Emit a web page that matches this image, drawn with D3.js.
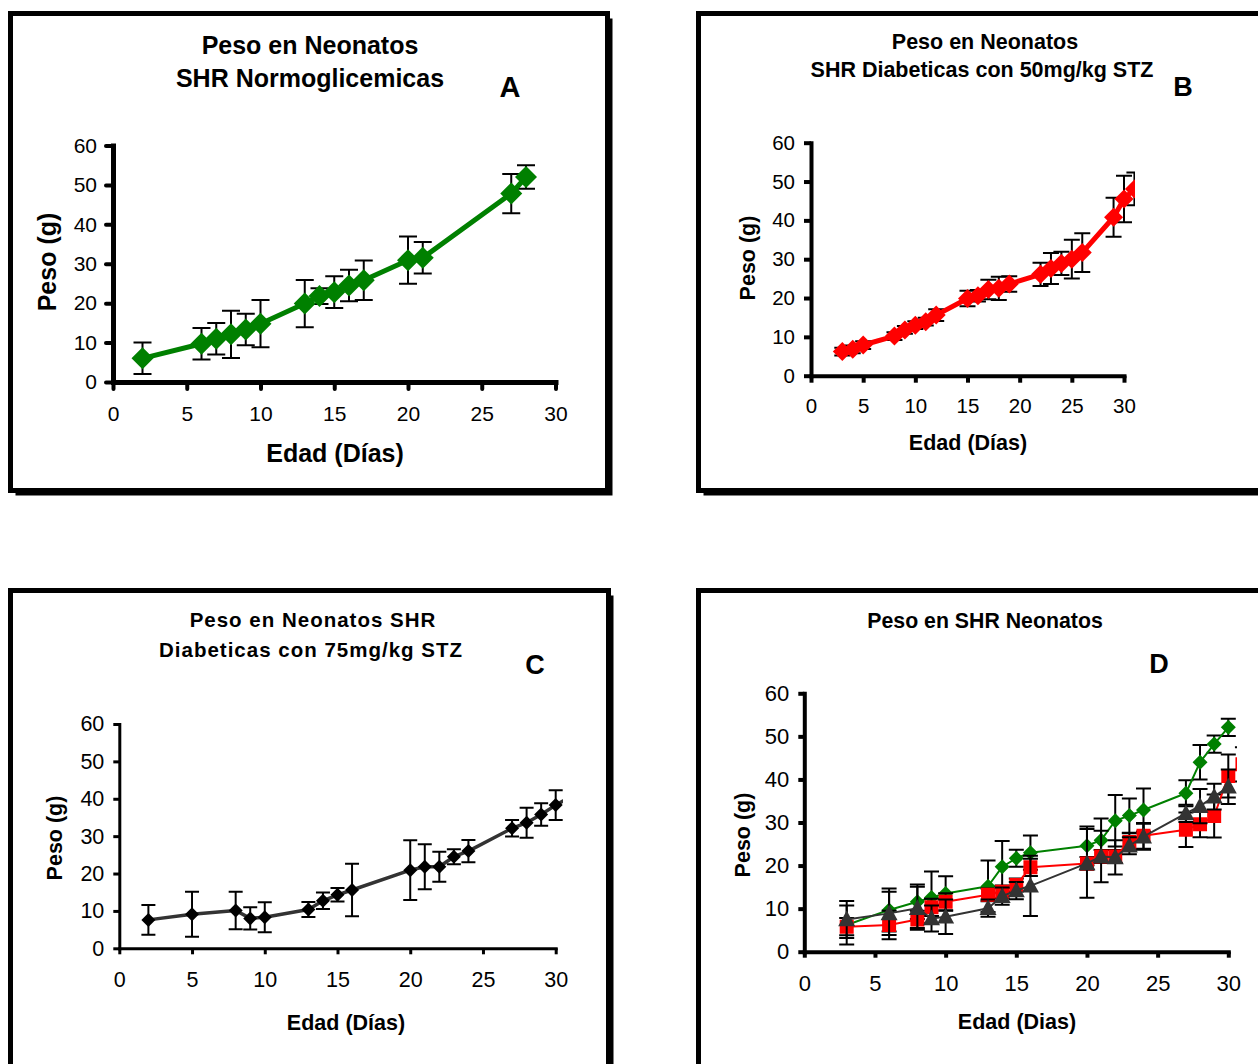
<!DOCTYPE html>
<html>
<head>
<meta charset="utf-8">
<script src="https://cdn.jsdelivr.net/npm/d3@7"></script>
<style>
  body { margin: 0; background: #fff; }
  text { font-family: "Liberation Sans", Arial, sans-serif; fill: #000; }
</style>
</head>
<body>
<div id="chart"></div>
<script>
// ---- data ----
const xTicks = [0, 5, 10, 15, 20, 25, 30]
const yTicks = [0, 10, 20, 30, 40, 50, 60]

// A: SHR normoglicemicas
const diasA = [2, 6, 7, 8, 9, 10, 13, 14, 15, 16, 17, 20, 21, 27, 28]
const pesoA = [6.0, 9.7, 11.0, 12.1, 13.3, 14.8, 19.9, 21.8, 22.8, 24.5, 25.8, 30.9, 31.5, 47.8, 52.0]
const errA  = [4, 4, 4, 6, 4, 6, 6, 2, 4, 4, 5, 6, 4, 5, 3]

// B: diabeticas 50mg/kg STZ
const diasB = [3, 4, 5, 8, 9, 10, 11, 12, 15, 16, 17, 18, 19, 22, 23, 24, 25, 26, 29, 30, 31]
const pesoB = [6.2, 6.8, 7.9, 10.2, 11.8, 13.0, 13.9, 15.6, 19.9, 20.6, 22.2, 22.5, 23.6, 26.1, 27.6, 28.9, 30.0, 31.7, 40.8, 45.5, 48.1]
const errB  = [1, 1, 1, 1, 1, 1, 1, 1.5, 2, 1.5, 2.5, 3, 2, 3, 4, 3, 5, 5, 5, 6, 4.2]

// C: diabeticas 75mg/kg STZ
const diasC = [2, 5, 8, 9, 10, 13, 14, 15, 16, 20, 21, 22, 23, 24, 27, 28, 29, 30, 31]
const pesoC = [7.6, 9.1, 10.1, 8.0, 8.3, 10.4, 12.7, 14.3, 15.6, 20.9, 21.8, 21.8, 24.5, 26.0, 32.1, 33.6, 35.8, 38.3, 40.5]
const errC  = [4, 6, 5, 3, 4, 2, 2.2, 1.8, 7, 8, 6, 4, 2, 3, 2.2, 4, 3, 4, 4]

// D: the three groups together
const diasD = [3, 6, 8, 9, 10, 13, 14, 15, 16, 20, 21, 22, 23, 24, 27, 28, 29, 30]
const diasDrojo = [3, 6, 8, 9, 10, 13, 14, 15, 16, 20, 21, 22, 23, 24, 27, 28, 29, 30, 31]
const pesoDverde = [6.2, 9.7, 11.6, 12.6, 13.5, 15.2, 19.7, 21.7, 23.0, 24.6, 25.9, 30.4, 31.6, 32.9, 36.8, 44.0, 48.2, 52.1]
const errDverde  = [4.5, 5, 4, 6, 4, 6, 6, 2, 4, 4.5, 5, 6, 4, 5, 3, 4, 2, 2]
const pesoDrojo  = [5.8, 6.2, 7.5, 10.3, 11.6, 13.2, 13.9, 15.5, 19.6, 20.5, 22.1, 22.1, 25.5, 26.9, 28.3, 29.6, 31.5, 40.8, 43.5]
const errDrojo   = [2, 3.3, 2, 2, 2, 1.5, 1.5, 1.5, 2, 1.5, 1.5, 1.5, 2, 3, 4, 3, 5, 5, 4]
const pesoDgris  = [7.5, 8.9, 10.1, 7.7, 8.1, 10.1, 12.9, 14.2, 15.3, 20.5, 22.1, 21.9, 24.6, 26.7, 32.1, 33.8, 36.0, 38.3]
const errDgris   = [4.3, 5, 5, 3, 4, 2, 2, 2, 7, 8, 6, 4, 2, 3, 2, 4, 3, 4]

const zip = (xs, ys, es) => xs.map((d, i) => ({x: d, y: ys[i], e: es[i]}))

const W = 1258, H = 1064
const svg = d3.select("#chart").append("svg")
    .attr("width", W)
    .attr("height", H)

function frame(x, y, w, h){
  svg.append("rect")
      .attr("x", x + 5).attr("y", y + 5)
      .attr("width", w).attr("height", h)
      .attr("fill", "#000")
  svg.append("rect")
      .attr("x", x).attr("y", y)
      .attr("width", w).attr("height", h)
      .attr("fill", "#fff")
      .attr("stroke", "#000")
      .attr("stroke-width", 5)
}

const shapes = {
  diamond: r => `M0,${-r}L${r},0L0,${r}L${-r},0Z`,
  square: r => `M${-r},${-r}H${r}V${r}H${-r}Z`,
  triangle: r => `M0,${-r * 1.05}L${r},${r * 0.8}L${-r},${r * 0.8}Z`
}

let clipId = 0
function panel(cfg){
  const x = d3.scaleLinear().domain([0, 30]).range(cfg.xr)
  const y = d3.scaleLinear().domain([0, 60]).range(cfg.yr)
  const g = svg.append("g")

  // titles and labels
  cfg.texts.forEach(t => {
    g.append("text")
        .attr("x", t.x).attr("y", t.y)
        .attr("text-anchor", "middle")
        .attr("font-weight", "bold")
        .attr("font-size", t.size)
        .attr("letter-spacing", t.ls || 0)
        .text(t.s)
  })
  g.append("text")
      .attr("transform", `translate(${cfg.ylab.x},${cfg.ylab.y}) rotate(-90)`)
      .attr("text-anchor", "middle")
      .attr("font-weight", "bold")
      .attr("font-size", cfg.ylab.size)
      .text("Peso (g)")

  // axes
  const ax = g.append("g")
      .attr("transform", `translate(0,${cfg.yr[0]})`)
      .call(d3.axisBottom(x).tickValues(xTicks).tickSize(cfg.tick).tickSizeOuter(0).tickPadding(cfg.xpad))
  const ay = g.append("g")
      .attr("transform", `translate(${cfg.xr[0]},0)`)
      .call(d3.axisLeft(y).tickValues(yTicks).tickSize(cfg.tick).tickSizeOuter(0).tickPadding(cfg.ypad))
  ;[ax, ay].forEach(a => {
    a.select(".domain").attr("stroke-width", cfg.axw).attr("stroke-linecap", "square")
    a.selectAll(".tick line").attr("stroke-width", cfg.tickw).attr("stroke-linecap", cfg.cap || "butt")
    a.selectAll(".tick text")
        .attr("font-size", cfg.tickFont)
        .attr("font-family", "'Liberation Sans', Arial, sans-serif")
        .attr("fill", "#000")
  })

  // series, clipped to the plot area like the original
  const id = "clip" + (clipId++)
  g.append("clipPath").attr("id", id)
    .append("rect")
      .attr("x", cfg.xr[0] - 40)
      .attr("y", cfg.yr[1] - 40)
      .attr("width", cfg.clipX - cfg.xr[0] + 40)
      .attr("height", cfg.yr[0] - cfg.yr[1] + 80)
  const plot = g.append("g").attr("clip-path", `url(#${id})`)

  cfg.series.forEach(s => {
    const sg = plot.append("g")
    const eb = sg.append("g").attr("stroke", "#000").attr("stroke-width", 2).attr("fill", "none")
    s.data.forEach(d => {
      const cx = x(d.x), hw = cfg.capw / 2
      eb.append("path")
          .attr("d", `M${cx},${y(d.y + d.e)}V${y(d.y - d.e)}M${cx - hw},${y(d.y + d.e)}H${cx + hw}M${cx - hw},${y(d.y - d.e)}H${cx + hw}`)
    })
    sg.append("path")
        .datum(s.data)
        .attr("fill", "none")
        .attr("stroke", s.line)
        .attr("stroke-width", s.lw)
        .attr("stroke-linejoin", "round")
        .attr("d", d3.line().x(d => x(d.x)).y(d => y(d.y)))
    sg.append("g")
      .selectAll("path")
      .data(s.data)
      .join("path")
        .attr("transform", d => `translate(${x(d.x)},${y(d.y)})`)
        .attr("d", shapes[s.shape](s.r))
        .attr("fill", s.fill)
  })
}

frame(10.5, 13.5, 597, 477)
frame(698.5, 13.5, 700, 477)
frame(10.5, 590.5, 598, 600)
frame(698.5, 590.5, 700, 600)

panel({
  xr: [113, 555.5], yr: [382, 145.5], clipX: 600,
  tick: 7, tickw: 4, axw: 5, cap: "round", xpad: 17, ypad: 9, tickFont: 21, capw: 18,
  texts: [
    {s: "Peso en Neonatos", x: 310, y: 54, size: 25},
    {s: "SHR Normoglicemicas", x: 310, y: 87, size: 25},
    {s: "A", x: 510, y: 97, size: 29},
    {s: "Edad (Días)", x: 335, y: 462, size: 25}
  ],
  ylab: {x: 56, y: 262, size: 25},
  series: [{data: zip(diasA, pesoA, errA), line: "#008000", lw: 5, shape: "diamond", r: 11, fill: "#008000"}]
})

panel({
  xr: [811, 1124], yr: [375.7, 142.7], clipX: 1135,
  tick: 7, tickw: 4, axw: 4, xpad: 16, ypad: 9, tickFont: 20.5, capw: 16,
  texts: [
    {s: "Peso en Neonatos", x: 985, y: 49, size: 21.5},
    {s: "SHR Diabeticas con 50mg/kg STZ", x: 982, y: 77, size: 21.5},
    {s: "B", x: 1183, y: 96, size: 27},
    {s: "Edad (Días)", x: 968, y: 450, size: 21.5}
  ],
  ylab: {x: 755, y: 258, size: 21.5},
  series: [{data: zip(diasB, pesoB, errB), line: "#ff0000", lw: 5, shape: "diamond", r: 9.5, fill: "#ff0000"}]
})

panel({
  xr: [119.3, 555.7], yr: [948.3, 724], clipX: 563,
  tick: 6, tickw: 3, axw: 3, xpad: 17, ypad: 9, tickFont: 21.5, capw: 14,
  texts: [
    {s: "Peso en Neonatos SHR", x: 313, y: 627, size: 20.5, ls: 1},
    {s: "Diabeticas con 75mg/kg STZ", x: 311, y: 657, size: 20.5, ls: 1},
    {s: "C", x: 535, y: 674, size: 27},
    {s: "Edad (Días)", x: 346, y: 1030, size: 21.5}
  ],
  ylab: {x: 62, y: 838, size: 21.5},
  series: [{data: zip(diasC, pesoC, errC), line: "#333333", lw: 3.5, shape: "diamond", r: 7, fill: "#000"}]
})

panel({
  xr: [804.3, 1228.3], yr: [951.7, 693.3], clipX: 1237,
  tick: 6, tickw: 4, axw: 4, xpad: 18, ypad: 9, tickFont: 22, capw: 15,
  texts: [
    {s: "Peso en SHR Neonatos", x: 985, y: 628, size: 21.3},
    {s: "D", x: 1159, y: 673, size: 27},
    {s: "Edad (Dias)", x: 1017, y: 1029, size: 21.5}
  ],
  ylab: {x: 750, y: 835, size: 21.5},
  series: [
    {data: zip(diasD, pesoDverde, errDverde), line: "#008000", lw: 2, shape: "diamond", r: 7.5, fill: "#008000"},
    {data: zip(diasDrojo, pesoDrojo, errDrojo), line: "#ff0000", lw: 2, shape: "square", r: 7, fill: "#ff0000"},
    {data: zip(diasD, pesoDgris, errDgris), line: "#333333", lw: 2, shape: "triangle", r: 8.5, fill: "#333333"}
  ]
})
</script>
</body>
</html>
